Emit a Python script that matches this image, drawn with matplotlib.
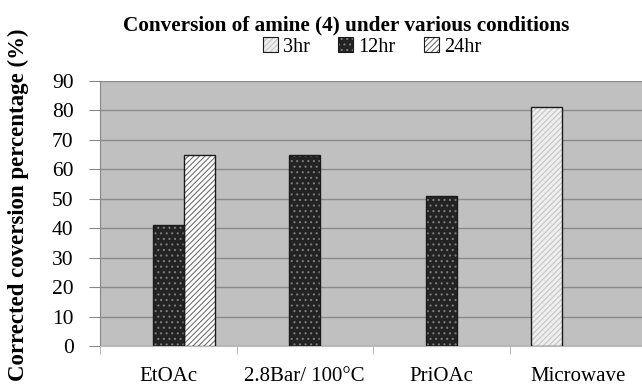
"""
Conversion of amine (4) under various conditions - grouped bar chart
"""
import numpy as np
import matplotlib.pyplot as plt
from matplotlib.patches import Patch

plt.rcParams['font.family'] = ['Liberation Serif', 'DejaVu Serif']
plt.rcParams['hatch.linewidth'] = 0.8

categories = ['EtOAc', '2.8Bar/ 100°C', 'PriOAc', 'Microwave']
series = ['3hr', '12hr', '24hr']
vals_3hr = [0, 0, 0, 81]
vals_12hr = [41, 65, 51, 0]
vals_24hr = [65, 0, 0, 0]
y_ticks = [0, 10, 20, 30, 40, 50, 60, 70, 80, 90]

# (facecolor, hatch, hatch colour) per series
styles = [
    ('#eeeeee', '//////', '#c6c6c6'),
    ('#232323', '...', '#7a7a7a'),
    ('#ffffff', '//////', '#707070'),
]

fig = plt.figure(figsize=(6.42, 3.89), dpi=100)
ax = fig.add_axes([100 / 642, 43 / 389, 546 / 642, 265 / 389])
ax.set_facecolor('#c0c0c0')

x = np.arange(len(categories))
width = 0.228
data = [vals_3hr, vals_12hr, vals_24hr]
handles = []
for i, (vals, (fc, hatch, hc)) in enumerate(zip(data, styles)):
    pos = x + (i - 1) * width
    vals = np.array(vals, dtype=float)
    mask = vals > 0
    # fill first, then the hatch pattern on top, then the outline
    ax.bar(pos[mask], vals[mask], width, color=fc, edgecolor='none', zorder=3)
    ax.bar(pos[mask], vals[mask], width, fill=False, hatch=hatch,
           edgecolor=hc, linewidth=0, zorder=3)
    ax.bar(pos[mask], vals[mask], width, fill=False,
           edgecolor='#1a1a1a', linewidth=1.0, zorder=4)
    handles.append((Patch(facecolor=fc, edgecolor='none'),
                    Patch(fill=False, hatch=hatch, edgecolor=hc, linewidth=0),
                    Patch(fill=False, edgecolor='#1a1a1a', linewidth=0.8)))

ax.set_ylim(0, 90)
ax.set_xlim(-0.5, 3.5)
ax.set_yticks(y_ticks)
ax.yaxis.grid(True, color='#8a8a8a', linewidth=1.0, zorder=0)
ax.set_axisbelow(True)
ax.tick_params(axis='y', labelsize=15.5, length=8, color='#888888', pad=11)

ax.set_xticks(x)
ax.set_xticklabels(categories, fontsize=15)
ax.tick_params(axis='x', length=0, pad=15)
ax.set_xticks([-0.5, 0.5, 1.5, 2.5], minor=True)
ax.tick_params(axis='x', which='minor', length=6, color='#aaaaaa')

for s in ['top', 'right']:
    ax.spines[s].set_visible(False)
ax.spines['left'].set_color('#888888')
ax.spines['bottom'].set_color('#bbbbbb')

fig.text(18 / 642, 1 - 205 / 389, 'Corrected coversion percentage (%)',
         rotation=90, ha='center', va='center', fontsize=16.5,
         fontweight='bold')

fig.text(346 / 642, 1 - 25 / 389,
         'Conversion of amine (4) under various conditions',
         ha='center', va='center', fontsize=15.3, fontweight='bold')

leg = ax.legend(handles, series, loc='center',
                bbox_to_anchor=(372 / 642, 1 - 47 / 389),
                bbox_transform=fig.transFigure,
                ncol=3, frameon=False, fontsize=14.5, handlelength=0.75,
                handleheight=0.75, handletextpad=0.25, columnspacing=1.4,
                borderpad=0)

fig.savefig('out.png', dpi=100)
